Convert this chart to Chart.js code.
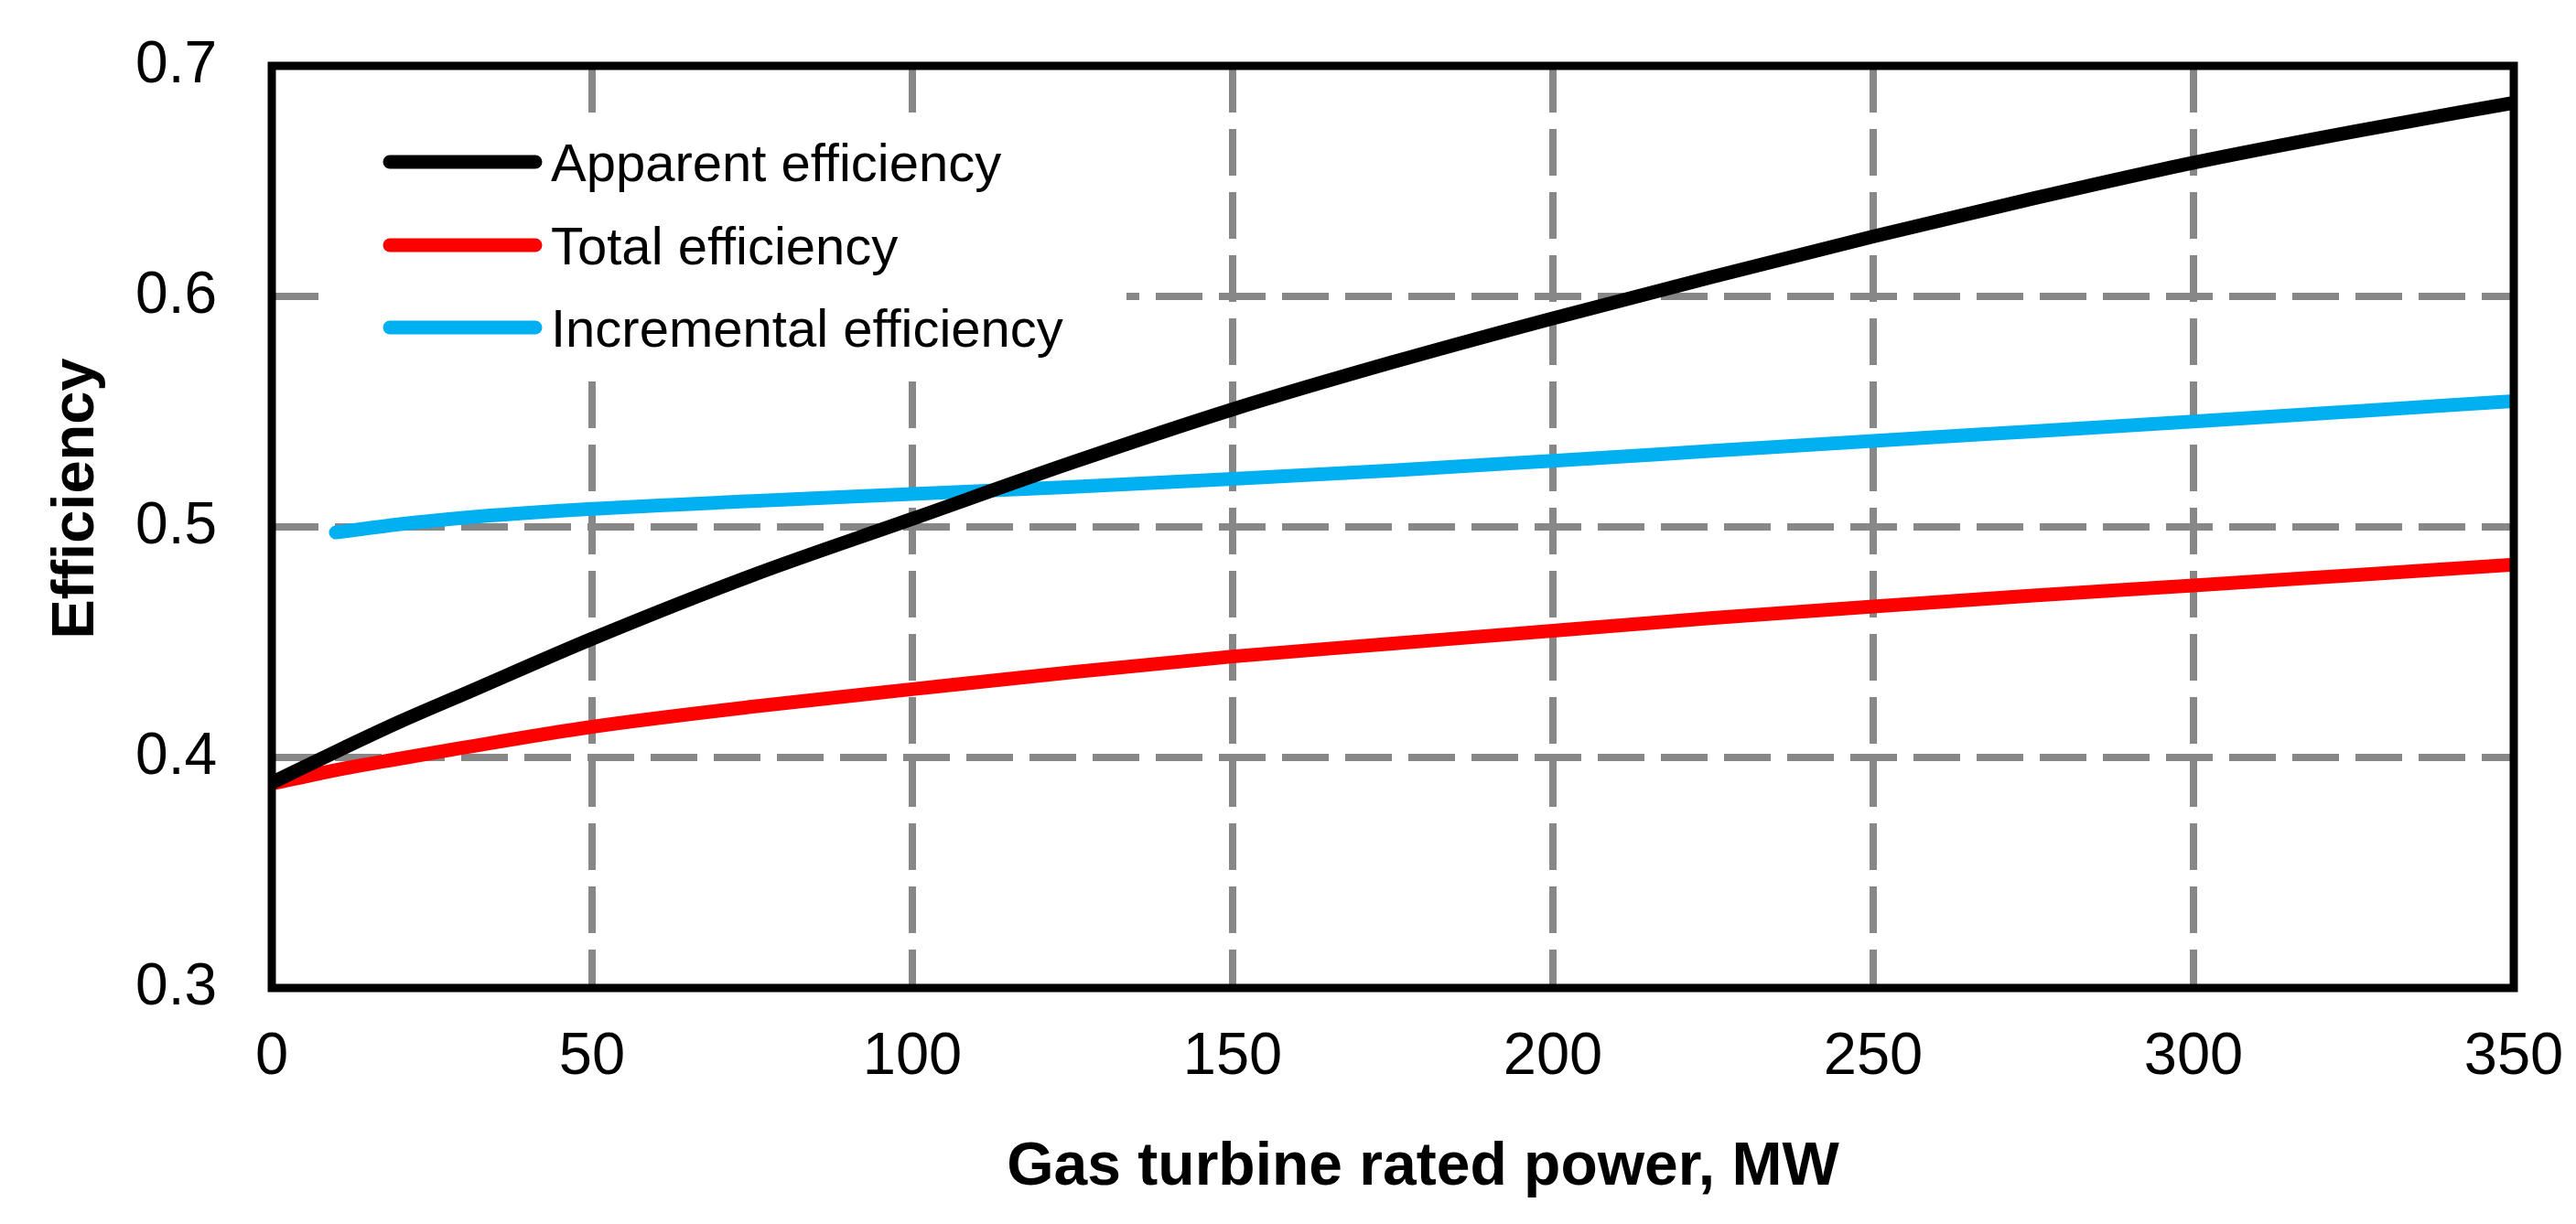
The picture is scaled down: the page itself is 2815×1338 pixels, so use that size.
<!DOCTYPE html>
<html>
<head>
<meta charset="utf-8">
<title>Gas turbine efficiency</title>
<script src="https://cdn.jsdelivr.net/npm/chart.js@4.4.1/dist/chart.umd.min.js"></script>
<style>
  html, body { margin: 0; padding: 0; background: #ffffff; overflow: hidden; }
  #chart { display: block; }
</style>
</head>
<body>
<canvas id="chart" width="2815" height="1338"></canvas>
<script>
// Gas turbine rated power, MW
const powerMW = [0, 10, 20, 30, 50, 75, 100, 125, 150, 175, 200, 225, 250, 275, 300, 325, 350];

const apparentEff = [0.389, 0.4025, 0.4155, 0.4275, 0.4515, 0.479, 0.5035, 0.528, 0.551, 0.5715, 0.5905, 0.6085, 0.626, 0.6425, 0.658, 0.6715, 0.684];
const totalEff = [0.3886, 0.3945, 0.3995, 0.4043, 0.4133, 0.422, 0.4296, 0.437, 0.4438, 0.4494, 0.455, 0.4605, 0.4655, 0.4702, 0.4746, 0.4791, 0.4836];
const incrementalEff = [null, 0.4976, 0.5012, 0.504, 0.5078, 0.5112, 0.5143, 0.5174, 0.5208, 0.5245, 0.5287, 0.533, 0.5373, 0.5415, 0.5457, 0.5501, 0.5546];

const xTicks = [0, 50, 100, 150, 200, 250, 300, 350];
const yTicks = [0.3, 0.4, 0.5, 0.6, 0.7];

const seriesNames = ["Apparent efficiency", "Total efficiency", "Incremental efficiency"];
const seriesColors = ["#000000", "#ff0000", "#00b0f0"];

const xTitle = "Gas turbine rated power, MW";
const yTitle = "Efficiency";

const FONT = 'Arial, "Liberation Sans", sans-serif';

function toPoints(values) {
  return powerMW
    .map((p, i) => ({ x: p, y: values[i] }))
    .filter((pt) => pt.y !== null);
}

Chart.defaults.font.family = FONT;
Chart.defaults.color = "#000000";

// legend box inside the plot, black frame, axis titles
const frameAndLegend = {
  id: "frameAndLegend",
  beforeDatasetsDraw(chart) {
    const ctx = chart.ctx;
    ctx.save();
    ctx.fillStyle = "#ffffff";
    ctx.fillRect(348, 123, 883, 293);

    const rows = [177, 268, 358];
    chart.data.datasets.forEach((ds, i) => {
      const y = rows[i];
      ctx.beginPath();
      ctx.lineWidth = 15;
      ctx.lineCap = "round";
      ctx.strokeStyle = ds.borderColor;
      ctx.moveTo(426, y);
      ctx.lineTo(585, y);
      ctx.stroke();

      ctx.fillStyle = "#000000";
      ctx.font = "58px " + FONT;
      ctx.textBaseline = "alphabetic";
      ctx.textAlign = "left";
      ctx.fillText(ds.label, 602, y + 21);
    });
    ctx.restore();
  },
  afterDatasetsDraw(chart) {
    const { ctx, chartArea } = chart;
    ctx.save();
    ctx.lineWidth = 9;
    ctx.strokeStyle = "#000000";
    ctx.strokeRect(
      chartArea.left,
      chartArea.top,
      chartArea.right - chartArea.left,
      chartArea.bottom - chartArea.top
    );
    ctx.restore();
  },
  afterDraw(chart) {
    const ctx = chart.ctx;
    ctx.save();
    ctx.fillStyle = "#000000";
    ctx.textAlign = "center";
    ctx.textBaseline = "alphabetic";

    ctx.font = "bold 66px " + FONT;
    ctx.fillText(xTitle, 1555, 1295);

    ctx.translate(102, 545);
    ctx.rotate(-Math.PI / 2);
    ctx.font = "bold 65px " + FONT;
    ctx.fillText(yTitle, 0, 0);
    ctx.restore();
  },
};

const seriesData = [apparentEff, totalEff, incrementalEff];

new Chart(document.getElementById("chart"), {
  type: "line",
  data: {
    datasets: seriesData.map((values, i) => ({
      label: seriesNames[i],
      data: toPoints(values),
      borderColor: seriesColors[i],
      backgroundColor: seriesColors[i],
      borderWidth: 15,
      borderCapStyle: i === 2 ? "round" : "butt",
      pointRadius: 0,
      fill: false,
      cubicInterpolationMode: "monotone",
      clip: 0,
    })),
  },
  options: {
    responsive: false,
    animation: false,
    devicePixelRatio: 1,
    layout: { padding: { left: 0, right: 68, top: 72, bottom: 0 } },
    plugins: {
      legend: { display: false },
      tooltip: { enabled: false },
    },
    scales: {
      x: {
        type: "linear",
        min: 0,
        max: 350,
        afterBuildTicks: (scale) => {
          scale.ticks = xTicks.map((v) => ({ value: v }));
        },
        afterFit: (scale) => {
          scale.height = 258;
          scale.paddingLeft = 0;
          scale.paddingRight = 0;
        },
        ticks: {
          font: { size: 65 },
          color: "#000000",
          padding: 37,
          maxRotation: 0,
        },
        grid: { color: "#878787", lineWidth: 8, drawTicks: false },
        border: { display: false, dash: [51, 18] },
      },
      y: {
        min: 0.3,
        max: 0.7,
        afterBuildTicks: (scale) => {
          scale.ticks = yTicks.map((v) => ({ value: v }));
        },
        afterFit: (scale) => {
          scale.width = 297;
          scale.paddingTop = 0;
          scale.paddingBottom = 0;
        },
        ticks: {
          font: { size: 64 },
          color: "#000000",
          padding: 60,
          callback: (v) => Number(v).toFixed(1),
        },
        grid: { color: "#878787", lineWidth: 8, drawTicks: false },
        border: { display: false, dash: [51, 18] },
      },
    },
  },
  plugins: [frameAndLegend],
});
</script>
</body>
</html>
